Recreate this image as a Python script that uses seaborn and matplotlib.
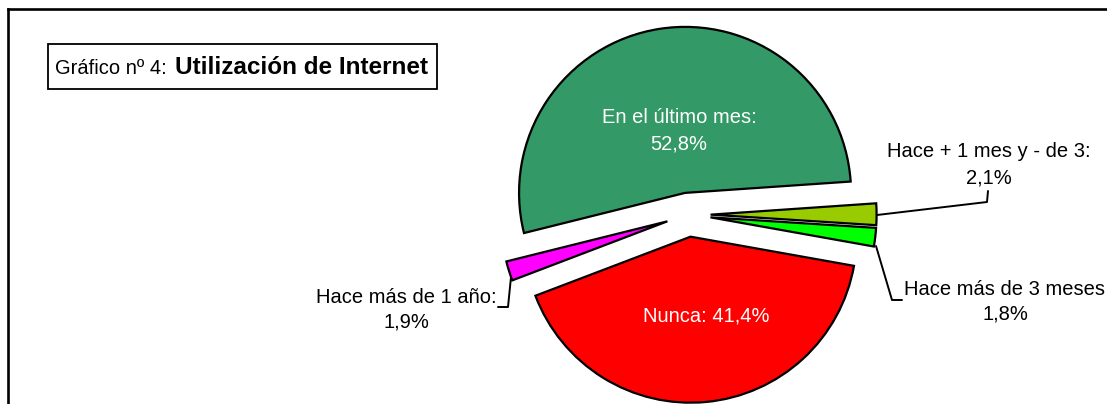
import matplotlib
matplotlib.use("Agg")
import matplotlib.pyplot as plt
from matplotlib.patches import Rectangle
import seaborn as sns

# ---- data ----
categories = ["En el último mes", "Hace + 1 mes y - de 3", "Hace más de 3 meses",
              "Nunca", "Hace más de 1 año"]
values = [52.8, 2.1, 1.8, 41.4, 1.9]
label_texts = ["En el último mes:\n52,8%", "Hace + 1 mes y - de 3:\n2,1%",
               "Hace más de 3 meses\n1,8%", "Nunca: 41,4%", "Hace más de 1 año:\n1,9%"]
colors = ["#339966", "#99CC00", "#00FF00", "#FF0000", "#FF00FF"]
title_normal = "Gráfico nº 4: "
title_bold = "Utilización de Internet"

sns.set_theme(style="white")
plt.rcParams["font.family"] = ["Liberation Sans", "DejaVu Sans"]

W, H = 1107, 404
fig = plt.figure(figsize=(W / 100, H / 100), dpi=100)
fig.patch.set_facecolor("white")

# pie axes: data units scaled so radius 1 -> R pixels
cx, cy, R = 688.5, 214.7, 166.0
ax = fig.add_axes([0, 0, 1, 1])
ax.pie(values, colors=colors, startangle=194, counterclock=False,
       explode=[0.133] * len(values), radius=1.0,
       wedgeprops=dict(edgecolor="black", linewidth=1.6))
ax.set_aspect("auto")
ax.set_xlim(-cx / R, (W - cx) / R)
ax.set_ylim(-(H - cy) / R, cy / R)
ax.axis("off")

# overlay axes in pixel coordinates
ov = fig.add_axes([0, 0, 1, 1], zorder=5)
ov.set_xlim(0, W)
ov.set_ylim(H, 0)
ov.axis("off")
ov.patch.set_alpha(0)

# chart frame (top & left visible)
ov.plot([8, W + 5], [9, 9], color="black", lw=1.9, solid_capstyle="projecting")
ov.plot([8, 8], [9, H + 5], color="black", lw=1.9, solid_capstyle="projecting")

# title box
ov.add_patch(Rectangle((48, 44), 389, 45, facecolor="white", edgecolor="black", lw=1.3))
ov.text(55, 74, title_normal, fontsize=14.5, ha="left", va="baseline", color="black")
ov.text(175, 74, title_bold, fontsize=17.5, fontweight="bold", ha="left",
        va="baseline", color="black")

fs = 14.5
def two_lines(x, y1, y2, text, color):
    l1, l2 = text.split("\n")
    ov.text(x, y1, l1, fontsize=fs, ha="center", va="baseline", color=color)
    ov.text(x, y2, l2, fontsize=fs, ha="center", va="baseline", color=color)

two_lines(679, 123, 150, label_texts[0], "white")
two_lines(989, 157, 184, label_texts[1], "black")
two_lines(1005, 295, 320, label_texts[2], "black")
ov.text(706, 322, label_texts[3], fontsize=fs, ha="center", va="baseline", color="white")
two_lines(406, 303, 328, label_texts[4], "black")

# leader lines
ov.plot([877, 987, 988], [215, 202, 191], color="black", lw=1.4)
ov.plot([876, 892, 902], [246, 300, 300], color="black", lw=1.4)
ov.plot([511, 508, 498], [277, 307, 307], color="black", lw=1.4)

fig.savefig("out.png", dpi=100)
